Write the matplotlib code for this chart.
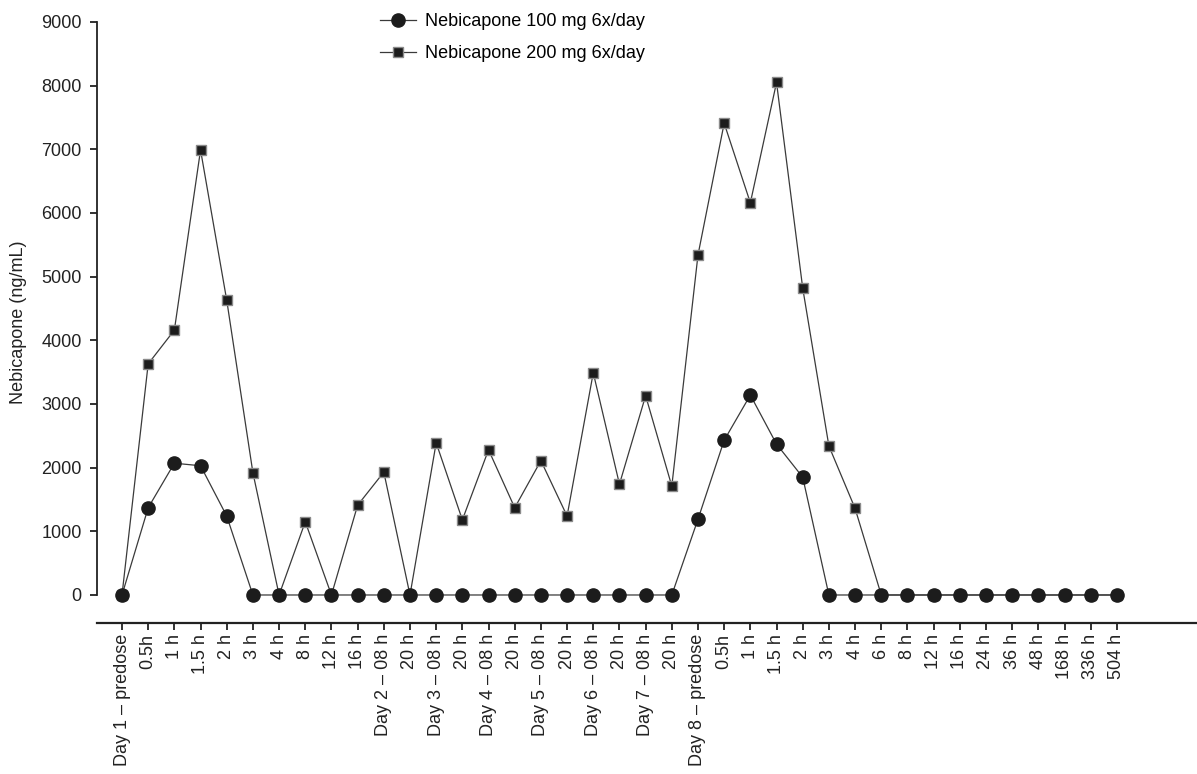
import matplotlib
matplotlib.use('Agg')
import matplotlib.pyplot as plt
import numpy as np

plt.rcParams['font.family'] = ['Liberation Sans', 'DejaVu Sans']

# sampling times (day 1 to day 8 and follow-up)
time_labels = ['Day 1 – predose', '0.5h', '1 h', '1.5 h', '2 h', '3 h', '4 h', '8 h', '12 h', '16 h',
               'Day 2 – 08 h', '20 h', 'Day 3 – 08 h', '20 h', 'Day 4 – 08 h', '20 h',
               'Day 5 – 08 h', '20 h', 'Day 6 – 08 h', '20 h', 'Day 7 – 08 h', '20 h',
               'Day 8 – predose', '0.5h', '1 h', '1.5 h', '2 h', '3 h', '4 h', '6 h', '8 h',
               '12 h', '16 h', '24 h', '36 h', '48 h', '168 h', '336 h', '504 h']

# plasma concentration, ng/mL
conc_100mg = [0, 1370, 2070, 2030, 1240, 0, 0, 0, 0, 0,
              0, 0, 0, 0, 0, 0, 0, 0, 0, 0, 0, 0,
              1190, 2430, 3140, 2370, 1850, 0, 0, 0, 0,
              0, 0, 0, 0, 0, 0, 0, 0]
conc_200mg = [0, 3630, 4160, 6990, 4630, 1920, 0, 1150, 0, 1410,
              1930, 0, 2390, 1180, 2280, 1370, 2110, 1240, 3490, 1740, 3130, 1710,
              5340, 7410, 6160, 8050, 4820, 2340, 1360, 0, 0,
              0, 0, 0, 0, 0, 0, 0, 0]

series_names = ['Nebicapone 100 mg 6x/day', 'Nebicapone 200 mg 6x/day']

fig = plt.figure(figsize=(11.97, 7.74), dpi=100)
ax = fig.add_axes([97 / 1197, 1 - 623 / 774, 1100 / 1197, (623 - 22) / 774])

x = np.arange(len(time_labels))
line_col = '#3a3a3a'

# 200 mg first so the 100 mg circles sit on top where both are zero
l200, = ax.plot(x, conc_200mg, '-', color=line_col, lw=0.9,
                marker='s', ms=7.5, mfc='#1c1c1c', mec='#8a8a8a', mew=1.0, zorder=3)
l100, = ax.plot(x, conc_100mg, '-', color=line_col, lw=0.9,
                marker='o', ms=9.5, mfc='#1c1c1c', mec='#1c1c1c', zorder=4)

ax.set_ylim(-440, 9000)
ax.set_xlim(-0.955, 41.06)
ax.set_yticks(np.arange(0, 9001, 1000))
ax.set_xticks(x)
ax.set_xticklabels(time_labels, rotation=90, va='top', ha='center')

for side in ['top', 'right']:
    ax.spines[side].set_visible(False)
ax.spines['left'].set_bounds(0, 9000)
ax.spines['left'].set_linewidth(1.3)
ax.spines['bottom'].set_linewidth(1.6)
ax.spines['left'].set_color('#222222')
ax.spines['bottom'].set_color('#222222')

ax.tick_params(axis='both', direction='out', length=5, width=1.3, colors='#222222',
               labelsize=13, labelcolor='#222222')
ax.tick_params(axis='x', pad=3)
ax.tick_params(axis='y', pad=6)

ax.set_ylabel('Nebicapone (ng/mL)', fontsize=13, color='#222222', labelpad=10)

fig.legend([l100, l200], series_names, loc='upper left',
           bbox_to_anchor=(380 / 1197, 1 - 13 / 774), frameon=False,
           fontsize=13, handlelength=2.0, handletextpad=0.5, labelspacing=0.85,
           borderpad=0, borderaxespad=0)

fig.savefig('out.png', dpi=100)
